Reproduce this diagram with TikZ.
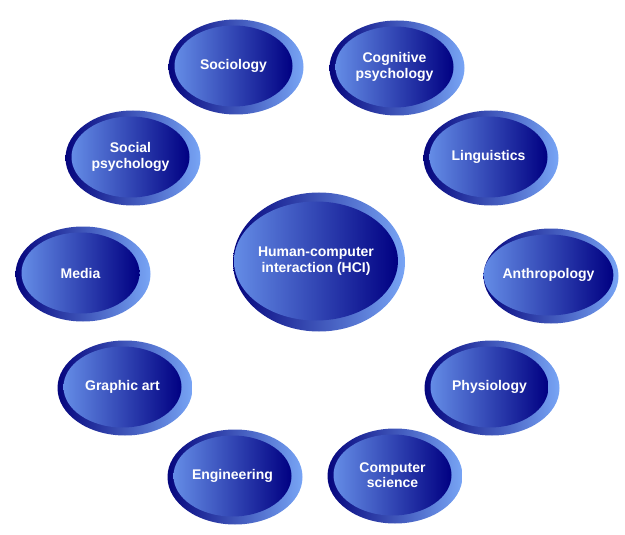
\documentclass[tikz,border=0pt]{standalone}
\usepackage{fontspec}
\setmainfont{Liberation Sans}
\usepackage{xcolor}
\usetikzlibrary{shapes.geometric,calc}
\definecolor{ringdark}{RGB}{5,5,125}
\definecolor{ringmid}{RGB}{30,45,175}
\definecolor{ringlight}{RGB}{120,165,245}
\definecolor{coredark}{RGB}{0,0,130}
\definecolor{coremid}{RGB}{30,45,180}
\definecolor{corelight}{RGB}{100,140,230}

\tikzset{
  ring/.style={ellipse, minimum width=135pt, minimum height=95pt,
    inner sep=0pt, left color=ringdark, middle color=ringmid,
    right color=ringlight},
  core/.style={ellipse, minimum width=118pt, minimum height=81pt,
    inner sep=0pt, left color=corelight, middle color=coremid,
    right color=coredark,
    text=white, font=\bfseries\fontsize{14}{15.5}\selectfont, align=center},
  bigring/.style={ring, minimum width=172pt, minimum height=139pt},
  bigcore/.style={core, minimum width=151pt, minimum height=119pt}
}

% one discipline: ring + core with label
\newcommand{\topic}[4][]{%
  \node[ring,#1] (#2-ring) at (#3) {};
  \node[core,#1] (#2) at ($(#3)+(-2.5,-1)$) {#4};
}

\begin{document}
\begin{tikzpicture}[x=1pt,y=-1pt]
  \useasboundingbox (0,0) rectangle (625,535);

  % Centre
  \node[bigring] (hci-ring) at (319,262) {};
  \node[bigcore] (hci) at (316,261) {Human-computer\\interaction (HCI)};

  % Surrounding disciplines
  \topic{sociology}{236,67}{Sociology}
  \topic{cogpsy}{397,68}{Cognitive\\psychology}
  \topic{socpsy}{133,158}{Social\\psychology}
  \topic{linguistics}{491,158}{Linguistics}
  \topic{media}{83,274}{Media}
  \topic{anthropology}{551,276}{Anthropology}
  \topic{graphic}{125,388}{Graphic art}
  \topic{physiology}{492,388}{Physiology}
  \topic{engineering}{235,477}{Engineering}
  \topic{compsci}{395,476}{Computer\\science}
\end{tikzpicture}
\end{document}
